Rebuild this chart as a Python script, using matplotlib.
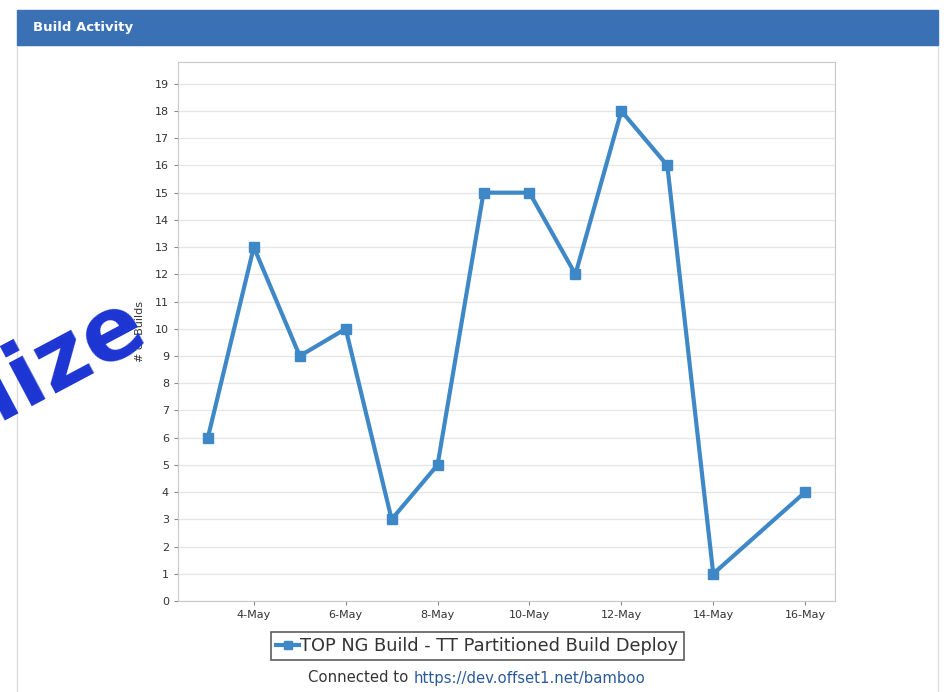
import datetime as dt
import matplotlib
matplotlib.use("Agg")
import matplotlib.pyplot as plt
import matplotlib.dates as mdates
from matplotlib.patches import Rectangle
from matplotlib.lines import Line2D

# build counts per day (15-May has no builds recorded)
days = [3, 4, 5, 6, 7, 8, 9, 10, 11, 12, 13, 14, 16]
builds = [6, 13, 9, 10, 3, 5, 15, 15, 12, 18, 16, 1, 4]
series_name = "TOP NG Build - TT Partitioned Build Deploy"
y_label = "# of Builds"

dates = [dt.datetime(2017, 5, d) for d in days]

fig = plt.figure(figsize=(9.44, 6.92), dpi=100)
W, H = 944, 692

def box(x0, y0, x1, y1):
    # pixel box (top-left origin) -> figure coords
    return (x0 / W, 1 - y1 / H, (x1 - x0) / W, (y1 - y0) / H)

# panel outline and blue header
px, py, pw, ph = box(17, 45, 938, 700)
fig.patches.append(Rectangle((px, py), pw, ph, transform=fig.transFigure,
                             facecolor="none", edgecolor="#dcdcdc", lw=1,
                             zorder=-5))
hx, hy, hw, hh = box(17, 10, 938, 45)
fig.patches.append(Rectangle((hx, hy), hw, hh, transform=fig.transFigure,
                             facecolor="#3a70b4", edgecolor="#3a70b4",
                             zorder=-5))
fig.text(33 / W, 1 - 28 / H, "Build Activity", color="white", fontsize=9.5,
         fontweight="bold", va="center", ha="left")

ax = fig.add_axes(box(178, 62, 835, 601))
ax.plot(dates, builds, color="#3f88c8", lw=3, marker="s", markersize=7)

ax.set_ylim(0, 19.8)
ax.set_yticks(range(0, 20))
ax.set_xlim(dt.datetime(2017, 5, 3) - dt.timedelta(hours=15.6),
            dt.datetime(2017, 5, 16) + dt.timedelta(hours=15.6))
ax.xaxis.set_major_locator(mdates.DayLocator(bymonthday=[4, 6, 8, 10, 12, 14, 16]))
ax.xaxis.set_major_formatter(mdates.DateFormatter("%-d-%b"))

ax.grid(axis="y", color="#e6e6e6", lw=1)
ax.set_axisbelow(True)
for s in ax.spines.values():
    s.set_color("#c8c8c8")
ax.tick_params(colors="#888888", labelcolor="#333333", labelsize=8, length=3)
ax.set_ylabel(y_label, fontsize=8, color="#333333", labelpad=7)

# legend below the plot
handle = Line2D([], [], color="#3f88c8", lw=3, marker="s", markersize=6)
leg = fig.legend([handle], [series_name], loc="center",
                 bbox_to_anchor=(477.5 / W, 1 - 646 / H), fontsize=12.8,
                 frameon=True, fancybox=False, handlelength=1.25,
                 handletextpad=0.1, borderpad=0.3, borderaxespad=0)
leg.get_frame().set_edgecolor("#333333")
leg.get_frame().set_linewidth(1.2)
for t in leg.get_texts():
    t.set_color("#333333")

fig.text(413 / W, 1 - 678 / H, "Connected to ", ha="right", va="center",
         fontsize=10.7, color="#333333")
fig.text(414 / W, 1 - 678 / H, "https://dev.offset1.net/bamboo", ha="left",
         va="center", fontsize=10.7, color="#2a5a9a")

# big stamp text on the left edge
fig.text(152 / W, 1 - 342 / H, "Visualize", ha="right", va="baseline",
         rotation=28, rotation_mode="anchor", fontsize=64, fontweight="bold",
         family="DejaVu Sans", color="#1c34d2", zorder=10)

fig.savefig("out.png", dpi=100)
